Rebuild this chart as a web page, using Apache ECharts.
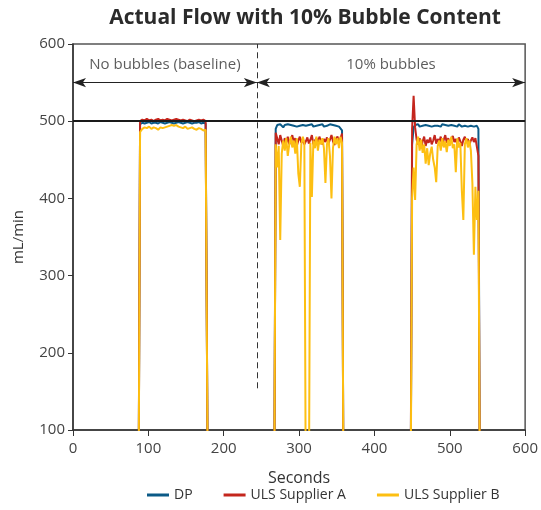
<!DOCTYPE html>
<html>
<head>
<meta charset="utf-8">
<script src="https://cdn.jsdelivr.net/npm/echarts@6/dist/echarts.min.js"></script>
<style>html,body{margin:0;padding:0;background:#fff}#c{width:541px;height:510px}</style>
</head>
<body>
<div id="c"></div>
<script>
// Pulse 1 (no bubbles, baseline)
const t1 = [87, 89, 92, 95, 98, 101, 104, 107, 110, 113, 116, 119, 122, 125, 128, 131, 134, 137, 140, 143, 146, 149, 152, 155, 158, 161, 164, 167, 170, 173, 176, 179];
const dp1 = [0, 496, 498, 497, 498, 499, 497, 498, 498, 497, 499, 498, 497, 498, 499, 498, 497, 498, 499, 498, 497, 498, 499, 498, 497, 498, 498, 499, 497, 498, 497, 0];
const a1 = [0, 500, 502, 501, 503, 501, 502, 500, 502, 503, 501, 502, 501, 503, 502, 501, 502, 503, 502, 501, 502, 501, 500, 502, 501, 500, 501, 502, 501, 502, 500, 0];
const b1 = [0, 486, 490, 492, 491, 493, 490, 492, 491, 489, 492, 491, 492, 493, 494, 495, 494, 495, 493, 492, 491, 493, 490, 491, 492, 490, 489, 491, 490, 488, 489, 0];

// Pulse 2 (10% bubbles)
const t2 = [267, 269, 271, 273, 275, 277, 279, 281, 283, 285, 287, 289, 291, 293, 295, 297, 299, 301, 303, 305, 307, 309, 311, 313, 315, 317, 319, 321, 323, 325, 327, 329, 331, 333, 335, 337, 339, 341, 343, 345, 347, 349, 351, 353, 355, 357, 359];
const dp2 = [0, 490, 495, 493, 496, 494, 492, 495, 493, 496, 494, 495, 493, 494, 496, 493, 495, 494, 492, 495, 496, 494, 493, 495, 494, 496, 493, 495, 494, 492, 495, 494, 496, 493, 495, 494, 493, 496, 494, 495, 493, 494, 495, 493, 494, 488, 0];
const a2 = [0, 485, 478, 470, 482, 475, 468, 478, 472, 480, 470, 476, 482, 473, 478, 468, 475, 480, 472, 477, 470, 474, 479, 471, 476, 482, 470, 475, 478, 472, 480, 474, 470, 477, 473, 479, 471, 476, 482, 474, 469, 477, 480, 473, 478, 484, 0];
const b2 = [0, 470, 440, 468, 346, 458, 475, 462, 478, 455, 470, 480, 466, 475, 458, 478, 432, 415, 470, 480, 472, 0, 0, 0, 472, 402, 475, 465, 480, 462, 476, 470, 478, 465, 420, 470, 478, 455, 400, 465, 480, 470, 478, 465, 480, 472, 0];

// Pulse 3 (10% bubbles)
const t3 = [448, 450, 452, 454, 456, 458, 460, 462, 464, 466, 468, 470, 472, 474, 476, 478, 480, 482, 484, 486, 488, 490, 492, 494, 496, 498, 500, 502, 504, 506, 508, 510, 512, 514, 516, 518, 520, 522, 524, 526, 528, 530, 532, 534, 536, 538, 540];
const dp3 = [0, 470, 492, 495, 494, 496, 493, 495, 494, 492, 495, 493, 494, 496, 493, 495, 494, 492, 494, 495, 493, 496, 494, 495, 493, 494, 496, 495, 493, 494, 495, 493, 496, 494, 493, 495, 494, 496, 493, 495, 494, 496, 493, 495, 494, 490, 0];
const a3 = [0, 490, 533, 492, 476, 470, 478, 465, 474, 480, 468, 476, 472, 479, 470, 475, 482, 471, 477, 473, 480, 469, 476, 482, 472, 478, 470, 476, 481, 473, 477, 470, 479, 474, 468, 476, 480, 472, 477, 470, 475, 479, 473, 478, 480, 455, 0];
const b3 = [0, 400, 440, 398, 470, 480, 462, 476, 459, 470, 445, 465, 443, 458, 467, 450, 440, 421, 468, 475, 462, 478, 466, 474, 460, 476, 468, 480, 465, 470, 434, 478, 466, 472, 410, 372, 470, 478, 466, 475, 462, 420, 327, 415, 372, 410, 0];

const seriesNames = ['DP', 'ULS Supplier A', 'ULS Supplier B'];
const seriesColors = ['#0b5a87', '#c4261d', '#fdbf12'];
const xTicks = [0, 100, 200, 300, 400, 500, 600];
const yTicks = [100, 200, 300, 400, 500, 600];

const phaseSplit = 244;
const refFlow = 500;
const arrowLevel = 550;
const labelLevel = 573;
const phaseLabels = [[122, labelLevel, 'No bubbles (baseline)'], [422, labelLevel, '10% bubbles']];

function pairs(ts, vs) { return ts.map((t, i) => [t, vs[i]]); }
const dpData = pairs(t1, dp1).concat(pairs(t2, dp2), pairs(t3, dp3));
const aData = pairs(t1, a1).concat(pairs(t2, a2), pairs(t3, a3));
const bData = pairs(t1, b1).concat(pairs(t2, b2), pairs(t3, b3));
const allData = [dpData, aData, bData];

const FONT = '"Open Sans", sans-serif';
const chart = echarts.init(document.getElementById('c'), null, { renderer: 'canvas' });

const lineSeries = seriesNames.map((n, i) => ({
  name: n, type: 'line', data: allData[i], showSymbol: false, symbol: 'none',
  clip: true, z: 3 + i,
  lineStyle: { color: seriesColors[i], width: 2 }, itemStyle: { color: seriesColors[i] }
}));

chart.setOption({
  animation: false,
  textStyle: { fontFamily: FONT },
  title: {
    text: 'Actual Flow with 10% Bubble Content', left: 300, top: 3, textAlign: 'center',
    textStyle: { fontFamily: FONT, fontSize: 21, fontWeight: 'bold', color: '#2b2b2b' }
  },
  grid: { left: 73, right: 15, top: 44, bottom: 80, show: true, borderColor: '#555', borderWidth: 1.5, backgroundColor: 'transparent' },
  legend: {
    bottom: 3, left: 142, icon: 'rect', itemWidth: 22, itemHeight: 3, itemGap: 31,
    data: seriesNames, textStyle: { fontFamily: FONT, fontSize: 14, color: '#333' }
  },
  xAxis: {
    type: 'value', min: 0, max: 600, interval: 100,
    name: 'Seconds', nameLocation: 'middle', nameGap: 40,
    nameTextStyle: { fontFamily: FONT, fontSize: 16, color: '#333' },
    axisLine: { show: true, lineStyle: { color: '#333', width: 1.5 } },
    axisTick: { show: true, length: 6, lineStyle: { color: '#333' } },
    axisLabel: { fontFamily: FONT, fontSize: 15, color: '#444', margin: 11 },
    splitLine: { show: false }
  },
  yAxis: {
    type: 'value', min: 100, max: 600, interval: 100,
    name: 'mL/min', nameLocation: 'middle', nameGap: 47,
    nameTextStyle: { fontFamily: FONT, fontSize: 15, color: '#333' },
    axisLine: { show: true, lineStyle: { color: '#333', width: 1.5 } },
    axisTick: { show: true, length: 5, lineStyle: { color: '#333' } },
    axisLabel: { fontFamily: FONT, fontSize: 15, color: '#444', margin: 8 },
    splitLine: { show: false }
  },
  series: lineSeries.concat([
    {
      name: 'annot', type: 'line', data: [], z: 10, silent: true,
      markLine: {
        silent: true, animation: false, label: { show: false },
        symbol: ['none', 'none'],
        data: [
          [{ coord: [0, refFlow], symbol: 'none', lineStyle: { color: '#1a1a1a', width: 2, type: 'solid' } },
           { coord: [600, refFlow], symbol: 'none' }],
          [{ coord: [phaseSplit, 154], symbol: 'none', lineStyle: { color: '#333', width: 1, type: [6, 4] } },
           { coord: [phaseSplit, 600], symbol: 'none' }],
          [{ coord: [0, arrowLevel], symbol: 'arrow', symbolSize: [7, 13], lineStyle: { color: '#222', width: 1.2, type: 'solid' } },
           { coord: [phaseSplit, arrowLevel], symbol: 'arrow', symbolSize: [7, 13] }],
          [{ coord: [phaseSplit, arrowLevel], symbol: 'arrow', symbolSize: [7, 13], lineStyle: { color: '#222', width: 1.2, type: 'solid' } },
           { coord: [600, arrowLevel], symbol: 'arrow', symbolSize: [7, 13] }]
        ]
      }
    },
    {
      name: 'phaseText', type: 'scatter', data: phaseLabels, symbolSize: 0, silent: true, z: 10,
      label: { show: true, position: 'inside', formatter: p => p.data[2], fontFamily: FONT, fontSize: 15, color: '#333' }
    }
  ])
});
</script>
</body>
</html>
